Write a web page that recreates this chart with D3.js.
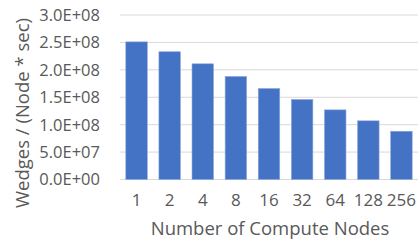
<!DOCTYPE html>
<html>
<head>
<meta charset="utf-8">
<script src="https://cdn.jsdelivr.net/npm/d3@7"></script>
<style>
  body { margin: 0; background: #fff; }
  text { font-family: "Open Sans", "Liberation Sans", Arial, sans-serif; fill: #595959; }
</style>
</head>
<body>
<div id="chart"></div>
<script>
var nodes = ["1", "2", "4", "8", "16", "32", "64", "128", "256"];
var wedges = [2.51e8, 2.33e8, 2.11e8, 1.88e8, 1.66e8, 1.46e8, 1.27e8, 1.07e8, 0.88e8];
var yTicks = [0, 5e7, 1e8, 1.5e8, 2e8, 2.5e8, 3e8];

var W = 419, H = 245;
var margin = {top: 15, right: 1, bottom: 65.5, left: 120};
var width = W - margin.left - margin.right,
    height = H - margin.top - margin.bottom;

var svg = d3.select("#chart").append("svg")
    .attr("width", W)
    .attr("height", H);

var g = svg.append("g")
    .attr("transform", `translate(${margin.left},${margin.top})`);

var x = d3.scaleBand().domain(nodes).range([0, width]).paddingInner(0.35).paddingOuter(0.175);
var y = d3.scaleLinear().domain([0, 3e8]).range([height, 0]);

// gridlines
g.selectAll(".grid")
    .data(yTicks)
    .enter().append("line")
    .attr("x1", 0).attr("x2", width)
    .attr("y1", d => y(d)).attr("y2", d => y(d))
    .attr("stroke", "#d9d9d9")
    .attr("stroke-width", 1);

// y tick labels, excel style 2.5E+08
var fmt = d => {
    var e = d3.format(".1e")(d).toUpperCase();
    return e.replace(/E([+-])(\d)$/, "E$10$2");
};
g.selectAll(".ylab")
    .data(yTicks)
    .enter().append("text")
    .attr("x", -20)
    .attr("y", d => y(d))
    .attr("dy", "0.36em")
    .attr("text-anchor", "end")
    .style("font-size", "16.5px")
    .text(fmt);

// bars
g.selectAll(".bar")
    .data(wedges)
    .enter().append("rect")
    .attr("x", (d, i) => x(nodes[i]))
    .attr("width", x.bandwidth())
    .attr("y", d => y(d))
    .attr("height", d => height - y(d))
    .attr("fill", "#4472c4")
    .attr("stroke", "#8faadc")
    .attr("stroke-width", 0.6);

// x tick labels
g.selectAll(".xlab")
    .data(nodes)
    .enter().append("text")
    .attr("x", d => x(d) + x.bandwidth() / 2)
    .attr("y", height + 26)
    .attr("text-anchor", "middle")
    .style("font-size", "17px")
    .text(d => d);

// axis titles
svg.append("text")
    .attr("x", 270)
    .attr("y", 235)
    .attr("text-anchor", "middle")
    .style("font-size", "18.5px")
    .text("Number of Compute Nodes");

svg.append("text")
    .attr("transform", "translate(29,113) rotate(-90)")
    .attr("text-anchor", "middle")
    .style("font-size", "18.5px")
    .text("Wedges / (Node * sec)");
</script>
</body>
</html>
